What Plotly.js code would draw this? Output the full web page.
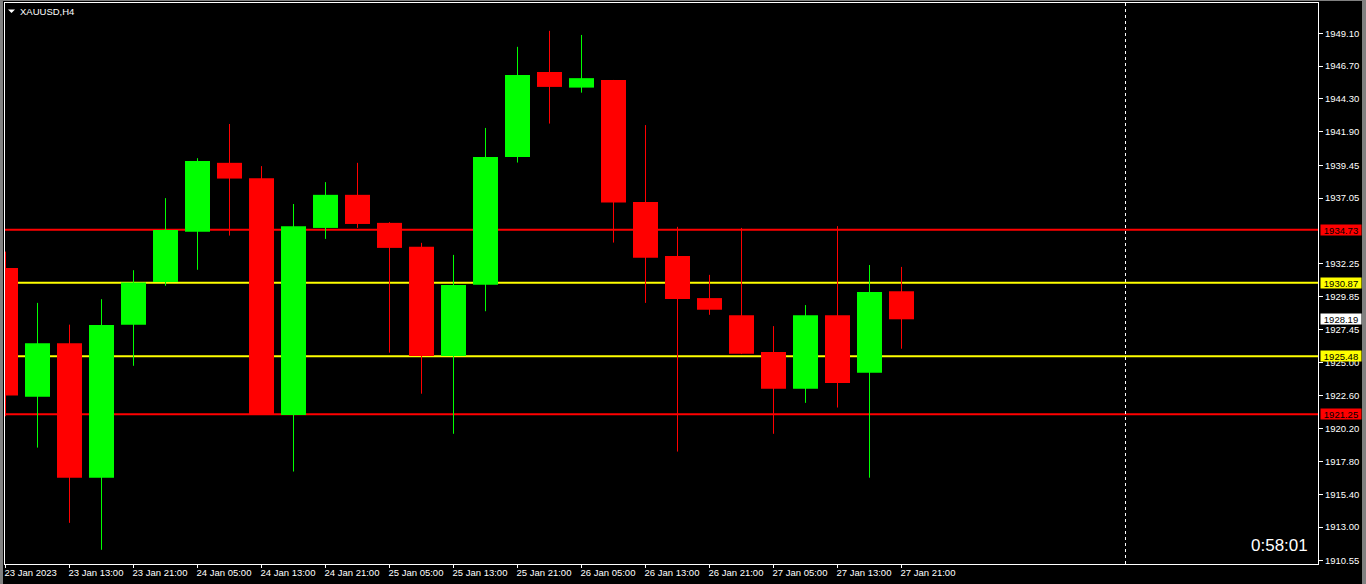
<!DOCTYPE html>
<html>
<head>
<meta charset="utf-8">
<script src="https://cdn.plot.ly/plotly-3.0.1.min.js"></script>
<style>
  html, body { margin: 0; padding: 0; background: #000; }
  #chart { width: 1366px; height: 584px; }
</style>
</head>
<body>
<div id="chart"></div>
<script>
// ---- Data (XAUUSD, H4) ----
const barTimes = [
  "2023-01-23 05:00","2023-01-23 09:00","2023-01-23 13:00","2023-01-23 17:00","2023-01-23 21:00",
  "2023-01-24 01:00","2023-01-24 05:00","2023-01-24 09:00","2023-01-24 13:00","2023-01-24 17:00","2023-01-24 21:00",
  "2023-01-25 01:00","2023-01-25 05:00","2023-01-25 09:00","2023-01-25 13:00","2023-01-25 17:00","2023-01-25 21:00",
  "2023-01-26 01:00","2023-01-26 05:00","2023-01-26 09:00","2023-01-26 13:00","2023-01-26 17:00","2023-01-26 21:00",
  "2023-01-27 01:00","2023-01-27 05:00","2023-01-27 09:00","2023-01-27 13:00","2023-01-27 17:00","2023-01-27 21:00"
];
const opens  = [1931.94,1922.53,1926.44,1916.61,1927.80,1930.91,1934.60,1939.63,1938.51,1921.20,1934.87,1937.29,1935.24,1933.49,1925.51,1930.72,1940.05,1946.27,1945.13,1945.69,1936.76,1932.82,1929.74,1928.49,1925.80,1923.12,1928.49,1924.29,1930.24];
const highs  = [1933.14,1929.39,1927.80,1929.66,1931.78,1937.05,1939.97,1942.47,1939.39,1936.62,1938.22,1939.63,1935.29,1933.78,1932.90,1942.18,1948.11,1949.28,1948.98,1945.69,1942.39,1934.95,1931.44,1934.87,1927.69,1929.23,1935.00,1932.16,1932.02];
const lows   = [1921.10,1918.81,1913.31,1911.34,1924.79,1930.64,1931.81,1934.31,1921.20,1917.06,1934.07,1934.87,1925.75,1922.75,1919.82,1928.78,1939.65,1942.50,1944.76,1933.80,1929.39,1918.52,1928.52,1925.65,1919.82,1922.08,1921.74,1916.61,1926.04];
const closes = [1922.61,1926.44,1916.61,1927.77,1930.88,1934.71,1939.76,1938.48,1921.23,1935.00,1937.29,1935.16,1933.41,1925.51,1930.70,1940.05,1946.06,1945.18,1945.82,1936.73,1932.69,1929.68,1928.89,1925.67,1923.12,1928.49,1923.54,1930.19,1928.19];

const tickLabels = ["23 Jan 2023","23 Jan 13:00","23 Jan 21:00","24 Jan 05:00","24 Jan 13:00","24 Jan 21:00",
  "25 Jan 05:00","25 Jan 13:00","25 Jan 21:00","26 Jan 05:00","26 Jan 13:00","26 Jan 21:00",
  "27 Jan 05:00","27 Jan 13:00","27 Jan 21:00"];
const priceTicks = [1949.10,1946.70,1944.30,1941.90,1939.45,1937.05,1932.25,1929.85,1927.45,1925.00,1922.60,1920.20,1917.80,1915.40,1913.00,1910.55];

const resistanceLevels = [1934.73, 1921.25];   // red lines
const supportLevels    = [1930.87, 1925.48];   // yellow lines
const currentPrice = 1928.19;
const symbolLabel = "XAUUSD,H4";
const timerText = "0:58:01";

// ---- Build traces ----
const GREEN = "#00ff00", RED = "#ff0000";
const idx = barTimes.map((_, i) => i);
const up = idx.filter(i => closes[i] >= opens[i]);
const dn = idx.filter(i => closes[i] < opens[i]);

function wickTrace(ids, color) {
  const x = [], y = [];
  ids.forEach(i => { x.push(i, i, null); y.push(lows[i], highs[i], null); });
  return { type: "scatter", mode: "lines", x, y, line: { color, width: 1 },
           hoverinfo: "skip", showlegend: false, connectgaps: false };
}
function bodyTrace(ids, color) {
  return {
    type: "bar",
    x: ids,
    base: ids.map(i => Math.min(opens[i], closes[i])),
    y: ids.map(i => Math.max(Math.abs(closes[i] - opens[i]), 0.05)),
    width: 25 / 32,
    marker: { color, line: { width: 0 } },
    hovertext: ids.map(i => barTimes[i]),
    showlegend: false
  };
}

const traces = [wickTrace(up, GREEN), wickTrace(dn, RED), bodyTrace(up, GREEN), bodyTrace(dn, RED)];

// ---- Layout ----
const shapes = [];
resistanceLevels.forEach(v => shapes.push({ type: "line", xref: "paper", x0: 0, x1: 1, yref: "y", y0: v, y1: v,
  line: { color: RED, width: 2 }, layer: "below" }));
supportLevels.forEach(v => shapes.push({ type: "line", xref: "paper", x0: 0, x1: 1, yref: "y", y0: v, y1: v,
  line: { color: "#ffff00", width: 2 }, layer: "below" }));
// chart shift separator
shapes.push({ type: "line", xref: "x", x0: 35, x1: 35, yref: "paper", y0: 0, y1: 1,
  line: { color: "#ffffff", width: 1, dash: "3px,3px" }, layer: "below" });
// window border strips
shapes.push({ type: "rect", xref: "paper", yref: "paper", x0: -5/1313, x1: -2/1313, y0: -20/561, y1: 3/561 + 1,
  fillcolor: "#808080", line: { width: 0 } });
shapes.push({ type: "rect", xref: "paper", yref: "paper", x0: -5/1313, x1: 1 + 48/1313, y0: 1 + 2/561, y1: 1 + 3/561,
  fillcolor: "#808080", line: { width: 0 } });
shapes.push({ type: "rect", xref: "paper", yref: "paper", x0: 1 + 44/1313, x1: 1 + 48/1313, y0: -20/561, y1: 1 + 3/561,
  fillcolor: "#808080", line: { width: 0 } });
// symbol menu triangle
shapes.push({ type: "path", xref: "paper", yref: "paper",
  path: `M ${3/1313} ${(564-9.5)/561} L ${10/1313} ${(564-9.5)/561} L ${6.5/1313} ${(564-13)/561} Z`,
  fillcolor: "#ffffff", line: { width: 0 } });

const annotations = [];
function priceTag(v, bg) {
  annotations.push({ xref: "paper", x: 1 + 2/1313, xanchor: "left", yref: "y", y: v, yanchor: "middle",
    text: v.toFixed(2), showarrow: false, bgcolor: bg, width: 40, height: 10, borderpad: 0, align: "center",
    font: { family: "Liberation Sans, Arial, sans-serif", size: 9.5, color: "#000000" } });
}
priceTag(resistanceLevels[0], RED);
priceTag(supportLevels[0], "#ffff00");
priceTag(currentPrice, "#ffffff");
priceTag(supportLevels[1], "#ffff00");
priceTag(resistanceLevels[1], RED);

annotations.push({ xref: "paper", yref: "paper", x: 13/1313, y: (564-11)/561, xanchor: "left", yanchor: "middle",
  text: symbolLabel, showarrow: false, font: { family: "Liberation Sans, Arial, sans-serif", size: 9.5, color: "#ffffff" } });
annotations.push({ xref: "paper", yref: "paper", x: (1310-5)/1313, y: (564-545)/561, xanchor: "right", yanchor: "middle",
  text: timerText, showarrow: false, font: { family: "Liberation Sans, Arial, sans-serif", size: 17, color: "#ffffff" } });

const layout = {
  width: 1366, height: 584,
  margin: { l: 5, r: 48, t: 3, b: 20, pad: 0 },
  paper_bgcolor: "#000000", plot_bgcolor: "#000000",
  showlegend: false, barmode: "overlay", hovermode: false,
  xaxis: {
    range: [-0.5/32, 1313/32 - 0.5/32],
    tickmode: "array",
    tickvals: tickLabels.map((_, k) => 2 * k),
    ticktext: tickLabels,
    ticks: "outside", ticklen: 3, tickcolor: "#ffffff", tickwidth: 1,
    ticklabelposition: "outside right",
    ticklabelshift: -2,
    tickfont: { family: "Liberation Sans, Arial, sans-serif", size: 9.5, color: "#ffffff" },
    showgrid: false, zeroline: false,
    showline: true, mirror: true, linecolor: "#ffffff", linewidth: 1,
    fixedrange: true
  },
  yaxis: {
    side: "right",
    range: [1910.30, 1951.315],
    tickmode: "array",
    tickvals: priceTicks,
    ticktext: priceTicks.map(v => v.toFixed(2)),
    ticks: "outside", ticklen: 4, tickcolor: "#ffffff", tickwidth: 1,
    tickfont: { family: "Liberation Sans, Arial, sans-serif", size: 9.5, color: "#ffffff" },
    showgrid: false, zeroline: false,
    showline: true, mirror: true, linecolor: "#ffffff", linewidth: 1,
    fixedrange: true
  },
  shapes, annotations
};

Plotly.newPlot("chart", traces, layout, { staticPlot: true, displayModeBar: false });
</script>
</body>
</html>
